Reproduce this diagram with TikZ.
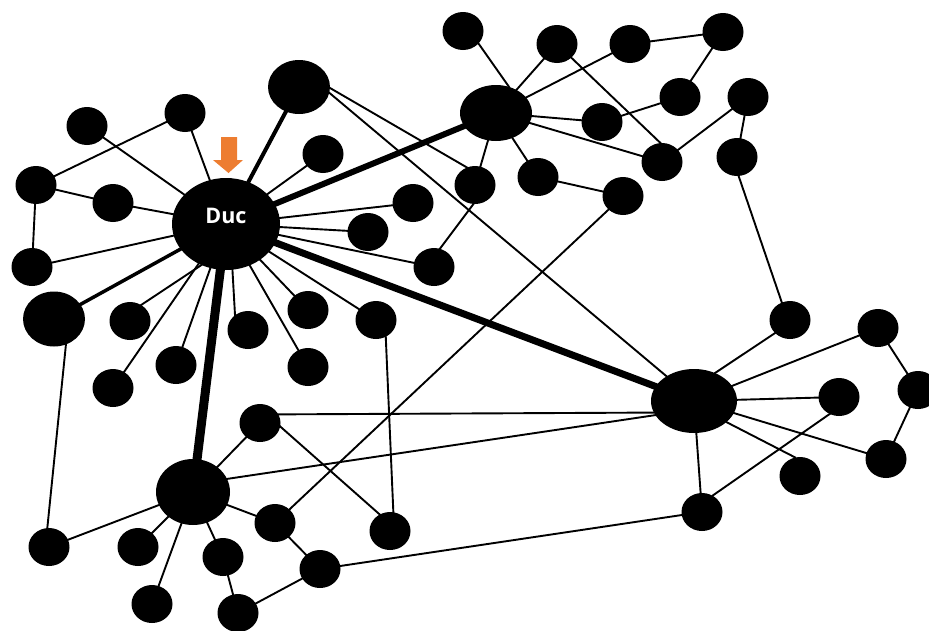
\documentclass[tikz,border=0pt]{standalone}
\usepackage{fontspec}
\newfontfamily\labelfont{Open Sans}
\usetikzlibrary{shapes.geometric}
\definecolor{pointer}{HTML}{ED7D31}

\begin{document}
\begin{tikzpicture}[x=1pt, y=-1pt,
        dot/.style={ellipse, fill=black, inner sep=0pt, minimum width=41pt, minimum height=38pt},
        hub/.style 2 args={ellipse, fill=black, inner sep=0pt, minimum width=#1pt, minimum height=#2pt},
        link/.style={line width=1.9pt, shorten <=-1pt, shorten >=-1pt},
        heavy/.style={line width=#1pt, shorten <=-2pt, shorten >=-2pt}]
    \useasboundingbox (0,0) rectangle (929,630);

    % hubs
    \node[hub={108}{92}] (duc) at (226,224) {};
    \node[hub={72}{56}] (hubn) at (496,113) {};
    \node[hub={86}{64}] (hube) at (694,401) {};
    \node[hub={74}{66}] (hubs) at (193,492) {};
    \node[hub={62}{54}] (bign) at (299,87) {};
    \node[hub={62}{55}] (bigw) at (54,319) {};

    % small dots
    \foreach \name/\x/\y in {d1/87/126, d2/185/113, d3/36/185, d4/113/203, d5/32/267, d6/323/154,
            d7/413/203, d8/368/232, d9/434/267, d10/130/321, d11/176/365, d12/113/388,
            d13/248/330, d14/308/310, d15/308/367, d16/376/320,
            n0/475/185, n1/463/31, n2/557/44, n3/630/44, n4/723/32, n5/680/97, n6/602/122,
            n7/748/97, n8/662/162, n9/737/157, n10/538/177, n11/623/196,
            e1/790/320, e2/878/328, e3/918/390, e4/839/397, e5/886/459, e6/800/476, e7/702/512,
            s0/260/423, s1/49/547, s2/138/547, s3/152/604, s4/223/557, s5/238/613,
            s6/275/523, s7/320/569, s8/390/531}{
        \node[dot] (\name) at (\x,\y) {};
    }

    % thin links
    \foreach \p/\q in {duc/d1, duc/d2, duc/d4, duc/d5, duc/d6, duc/d7, duc/d8, duc/d9,
            duc/d11, duc/d12, duc/d14, duc/d15, duc/d16, d10.55/duc.-121, d13.131/duc.-82,
            d2/d3, d3/d4, d3/d5, bigw.-65/s1.95,
            bign.-2/n0.115, bign.-11/hube.138,
            n1.-39/hubn.64, hubn/n2, hubn/n3, hubn/n6, hubn/n8, hubn/n0, hubn/n10,
            n3/n4, n4/n5, n5/n6, n2/n8.95, n8/n7, n7/n9, n9.-85/e1.115, n10/n11,
            n11/s6, n0.-95/d9.72,
            e1.-139/hube.53, hube/e2, hube/e4, hube/e5, hube.-33/e6.105, hube/e7,
            s0.25/hube.-164, hubs.21/hube.-160, e2/e3, e3/e5, e7.57/e4.-119, e7/s7,
            hubs/s1, hubs/s2, hubs/s3, hubs/s4, hubs/s6, s0/hubs, s4/s5, s5/s7, s6/s7,
            s0.-10/s8.122, d16.-60/s8.80}{
        \draw[link] (\p) -- (\q);
    }

    % heavy links out of Duc
    \draw[heavy=4] (duc) -- (bign);
    \draw[heavy=3.5] (duc) -- (bigw);
    \draw[heavy=6] (duc) -- (hubn);
    \draw[heavy=7] (duc) -- (hube);
    \draw[heavy=9] (duc) -- (hubs);

    \node[text=white, font=\labelfont\bfseries\fontsize{21.5}{25}\selectfont] (duclabel) at ([yshift=8pt]duc.center) {Duc};

    % orange pointer
    \fill[pointer] (221,137) -- (237,137) -- (237,160) -- (243,160) -- (228.5,173) -- (213,160) -- (221,160) -- cycle;
\end{tikzpicture}
\end{document}
